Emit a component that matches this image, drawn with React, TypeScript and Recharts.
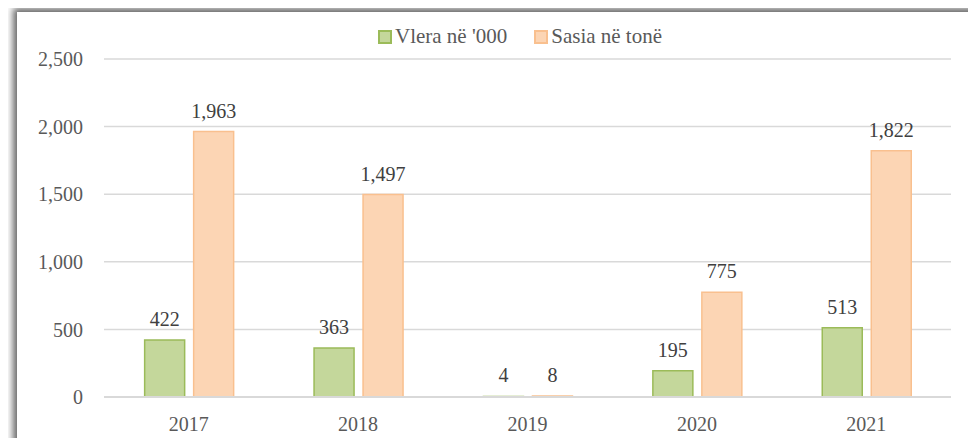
import React from "react";
import { BarChart, Bar, XAxis, YAxis, CartesianGrid, LabelList } from "recharts";

const years = ["2017", "2018", "2019", "2020", "2021"];
const vlera = [422, 363, 4, 195, 513];
const sasia = [1963, 1497, 8, 775, 1822];
const yTicks = [0, 500, 1000, 1500, 2000, 2500];

const series = [
  { key: "vlera", name: "Vlera në '000", fill: "#c4d79b", stroke: "#9bbb59" },
  { key: "sasia", name: "Sasia në tonë", fill: "#fcd5b4", stroke: "#f9c08f" },
];

const data = years.map((y, i) => ({ year: y, vlera: vlera[i], sasia: sasia[i] }));

const FONT = "'Liberation Serif', serif";
const TEXT = "#595959";

const fmtNum = (v: number) => v.toLocaleString("en-US");

export default function App() {
  return (
    <div style={{ position: "relative", width: 976, height: 446, margin: -8, overflow: "hidden", background: "#fff" }}>
      <div
        style={{
          position: "absolute", left: 17, top: 12, width: 1000, height: 470,
          background: "#fff", boxShadow: "-4px -4px 7px rgba(0,0,0,0.6)",
        }}
      />
      <div
        style={{
          position: "absolute", top: 24, left: 0, width: 976, display: "flex", justifyContent: "center",
          fontFamily: FONT, fontSize: 21, color: TEXT, paddingLeft: 64, boxSizing: "border-box",
        }}
      >
        {series.map((s, i) => (
          <span key={s.key} style={{ display: "flex", alignItems: "center", marginLeft: i ? 27 : 0 }}>
            <span style={{ width: 10, height: 10, background: s.fill, border: `2px solid ${s.stroke}`, marginRight: 3, display: "inline-block" }} />
            {s.name}
          </span>
        ))}
      </div>
      <div style={{ position: "absolute", left: 0, top: 0 }}>
        <BarChart
          width={976}
          height={446}
          data={data}
          margin={{ top: 59, right: 25, bottom: 19, left: 0 }}
          barCategoryGap="24%"
          barGap={9}
        >
          <CartesianGrid vertical={false} stroke="#d9d9d9" strokeWidth={1.5} />
          <XAxis
            dataKey="year"
            height={30}
            tickLine={false}
            axisLine={{ stroke: "#d9d9d9", strokeWidth: 2 }}
            tickSize={0}
            tickMargin={20}
            tick={{ fill: TEXT, fontSize: 20, fontFamily: FONT }}
          />
          <YAxis
            width={104}
            domain={[0, 2500]}
            ticks={yTicks}
            axisLine={false}
            tickLine={false}
            tickSize={0}
            tickMargin={21}
            tickFormatter={fmtNum}
            tick={{ fill: TEXT, fontSize: 20, fontFamily: FONT }}
          />
          {series.map((s) => (
            <Bar key={s.key} dataKey={s.key} name={s.name} fill={s.fill} stroke={s.stroke} strokeWidth={1.5} isAnimationActive={false}>
              <LabelList
                dataKey={s.key}
                position="top"
                offset={14}
                formatter={(v: any) => fmtNum(Number(v))}
                style={{ fill: "#404040", fontSize: 20, fontFamily: FONT }}
              />
            </Bar>
          ))}
        </BarChart>
      </div>
    </div>
  );
}
